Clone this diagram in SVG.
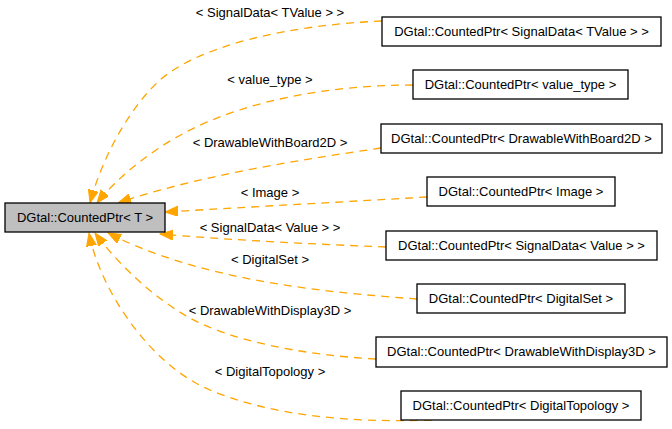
<svg xmlns="http://www.w3.org/2000/svg" width="672" height="429" viewBox="0 0 672 429">
<style>
  .box { fill: #ffffff; stroke: #000000; stroke-width: 1.3; }
  .main { fill: #bfbfbf; stroke: #000000; stroke-width: 1.3; }
  .t { font-family: "Liberation Sans", Arial, sans-serif; font-size: 13px; fill: #000000; text-anchor: middle; }
  .e { fill: none; stroke: #ffa500; stroke-width: 1.3; stroke-dasharray: 8,6; marker-end: url(#arr); }
</style>
<defs>
  <marker id="arr" markerUnits="userSpaceOnUse" markerWidth="14" markerHeight="11" refX="13" refY="5" orient="auto">
    <path d="M0,0 L13,5 L0,10 Z" fill="#ffa500" stroke="#ffa500" stroke-width="1"/>
  </marker>
</defs>
<rect width="672" height="429" fill="#ffffff"/>
<g id="connectors">
  <path class="e" d="M382,21 C290,25 200,45 160,80 C125,112 100,165 90,203"/>
  <path class="e" d="M413,85 C330,85 250,100 190,130 C150,150 115,180 97,203"/>
  <path class="e" d="M381,148 C300,160 200,175 118,203"/>
  <path class="e" d="M427,197 C340,202 250,207 165,212"/>
  <path class="e" d="M386,247 C310,244 230,240 160,234"/>
  <path class="e" d="M417,299 C320,292 200,280 108,233"/>
  <path class="e" d="M376,359 C300,355 230,340 190,318 C150,296 115,260 95,233"/>
  <path class="e" d="M432,420 C345,423 270,415 210,390 C150,365 100,290 89,233"/>
  <text class="t" x="270" y="17">&lt; SignalData&lt; TValue &gt; &gt;</text>
  <text class="t" x="270" y="84">&lt; value_type &gt;</text>
  <text class="t" x="270" y="147">&lt; DrawableWithBoard2D &gt;</text>
  <text class="t" x="270" y="197">&lt; Image &gt;</text>
  <text class="t" x="270" y="232">&lt; SignalData&lt; Value &gt; &gt;</text>
  <text class="t" x="270" y="264">&lt; DigitalSet &gt;</text>
  <text class="t" x="270" y="315">&lt; DrawableWithDisplay3D &gt;</text>
  <text class="t" x="270" y="376">&lt; DigitalTopology &gt;</text>
</g>
<g id="node_main">
  <rect class="main" x="5" y="203" width="160" height="29"/>
  <text class="t" x="85" y="222">DGtal::CountedPtr&lt; T &gt;</text>
</g>
<g id="node_signaldata_tvalue">
  <rect class="box" x="382" y="17" width="279" height="29"/>
  <text class="t" x="521.5" y="36">DGtal::CountedPtr&lt; SignalData&lt; TValue &gt; &gt;</text>
</g>
<g id="node_value_type">
  <rect class="box" x="413" y="70" width="215" height="29"/>
  <text class="t" x="520.5" y="89">DGtal::CountedPtr&lt; value_type &gt;</text>
</g>
<g id="node_board2d">
  <rect class="box" x="381" y="124" width="281" height="29"/>
  <text class="t" x="521.5" y="143">DGtal::CountedPtr&lt; DrawableWithBoard2D &gt;</text>
</g>
<g id="node_image">
  <rect class="box" x="427" y="177" width="188" height="29"/>
  <text class="t" x="521" y="196">DGtal::CountedPtr&lt; Image &gt;</text>
</g>
<g id="node_signaldata_value">
  <rect class="box" x="386" y="231" width="271" height="29"/>
  <text class="t" x="521.5" y="250">DGtal::CountedPtr&lt; SignalData&lt; Value &gt; &gt;</text>
</g>
<g id="node_digitalset">
  <rect class="box" x="417" y="284" width="208" height="29"/>
  <text class="t" x="521" y="303">DGtal::CountedPtr&lt; DigitalSet &gt;</text>
</g>
<g id="node_display3d">
  <rect class="box" x="376" y="337" width="291" height="30"/>
  <text class="t" x="521.5" y="356">DGtal::CountedPtr&lt; DrawableWithDisplay3D &gt;</text>
</g>
<g id="node_topology">
  <rect class="box" x="401" y="391" width="240" height="29"/>
  <text class="t" x="521" y="410">DGtal::CountedPtr&lt; DigitalTopology &gt;</text>
</g>
</svg>
